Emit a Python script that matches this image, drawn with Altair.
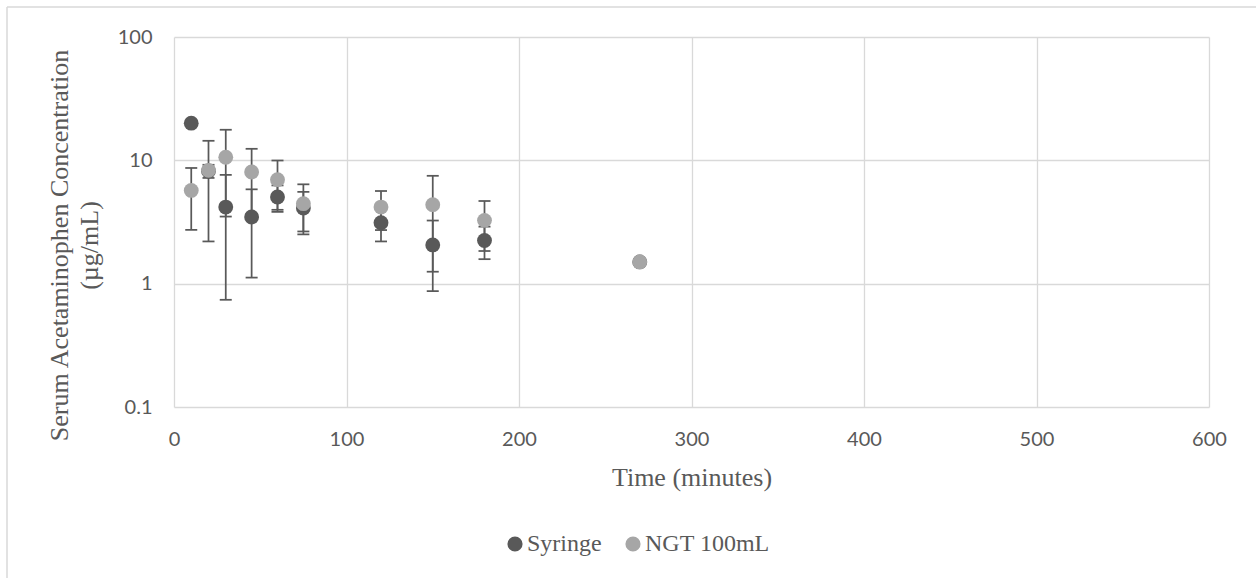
import altair as alt
import pandas as pd

# ---- data ----
times = [10, 20, 30, 45, 60, 75, 120, 150, 180, 270]
series_names = ["Syringe", "NGT 100mL"]
syringe_mean = [20.0, 8.2, 4.18, 3.47, 5.04, 4.10, 3.12, 2.06, 2.24, 1.50]
syringe_sd = [None, 1.0, 3.44, 2.35, 1.22, 1.45, 0.92, 1.19, 0.66, None]
ngt_mean = [5.7, 8.3, 10.6, 8.04, 6.97, 4.45, 4.18, 4.37, 3.26, 1.50]
ngt_sd = [2.97, 6.1, 7.1, 4.36, 3.0, 1.94, 1.46, 3.12, 1.42, None]
x_ticks = [0, 100, 200, 300, 400, 500, 600]
y_ticks = [0.1, 1, 10, 100]

colors = ["#595959", "#A6A6A6"]
bar_color = "#595959"
grid_color = "#D9D9D9"
text_color = "#595959"

pts = []
errs = []
for name, means, sds in [(series_names[0], syringe_mean, syringe_sd),
                         (series_names[1], ngt_mean, ngt_sd)]:
    for t, m, s in zip(times, means, sds):
        pts.append({"series": name, "t": t, "mean": m})
        if s is not None:
            errs.append({"series": name, "t": t, "lo": m - s, "hi": m + s})
pts_df = pd.DataFrame(pts)
err_df = pd.DataFrame(errs)
dummy = pd.DataFrame({"a": [0]})

xscale = alt.Scale(domain=[0, 600], nice=False, zero=False)
yscale = alt.Scale(type="log", domain=[0.1, 100], nice=False)
xaxis = alt.Axis(values=x_ticks, format="d", title="Time (minutes)", labelFlush=False,
                 titleY=78, titleBaseline="alphabetic")
yaxis = alt.Axis(values=y_ticks, format="~g", labelFlush=False,
                 title=["Serum Acetaminophen Concentration", "(µg/mL)"],
                 titleX=-107, titleY=208, titleAngle=270, titleAlign="center",
                 titleBaseline="alphabetic", titleLineHeight=30)

def X():
    return alt.X("t:Q", scale=xscale, axis=xaxis)

border_left = alt.Chart(dummy).mark_rule(color=grid_color, strokeWidth=1.5).encode(
    x=alt.value(-167), y=alt.value(-30), y2=alt.value(541))
border_top = alt.Chart(dummy).mark_rule(color=grid_color, strokeWidth=1.5).encode(
    x=alt.value(-167), x2=alt.value(1082), y=alt.value(-30))

err_rule = alt.Chart(err_df).mark_rule(color=bar_color, strokeWidth=1.75).encode(
    x=X(), y=alt.Y("lo:Q", scale=yscale, axis=yaxis), y2="hi:Q")
cap_lo = alt.Chart(err_df).mark_tick(color=bar_color, orient="horizontal", size=12,
                                     thickness=1.75, opacity=1).encode(
    x=X(), y=alt.Y("lo:Q", scale=yscale, axis=yaxis))
cap_hi = alt.Chart(err_df).mark_tick(color=bar_color, orient="horizontal", size=12,
                                     thickness=1.75, opacity=1).encode(
    x=X(), y=alt.Y("hi:Q", scale=yscale, axis=yaxis))

points = alt.Chart(pts_df).mark_point(filled=True, size=220, opacity=1, strokeWidth=0).encode(
    x=X(),
    y=alt.Y("mean:Q", scale=yscale, axis=yaxis),
    color=alt.Color("series:N",
                    scale=alt.Scale(domain=series_names, range=colors),
                    sort=series_names,
                    legend=alt.Legend(title=None, orient="none", direction="horizontal",
                                      legendX=329, legendY=495, symbolType="circle",
                                      symbolSize=230, symbolStrokeWidth=0,
                                      labelFont="Liberation Serif", labelFontSize=24,
                                      labelColor=text_color, labelOffset=0,
                                      columnPadding=19, padding=0,
                                      labelBaseline="middle")),
)

chart = alt.layer(border_left, border_top, err_rule, cap_lo, cap_hi, points).properties(
    width=1035, height=370,
    autosize=alt.AutoSizeParams(type="none"),
    padding={"left": 174, "top": 37, "right": 47, "bottom": 171},
    background="white",
).configure_view(stroke="transparent").configure_axis(
    grid=True, gridColor=grid_color, gridWidth=1.3, domain=False, ticks=False,
    labelFont="Lato", labelFontSize=20, labelColor=text_color, labelPadding=22,
    titleFont="Liberation Serif", titleFontSize=26, titleColor=text_color,
    titleFontWeight="normal",
)

chart.save("out.html", embed_options={"renderer": "svg", "actions": False})
